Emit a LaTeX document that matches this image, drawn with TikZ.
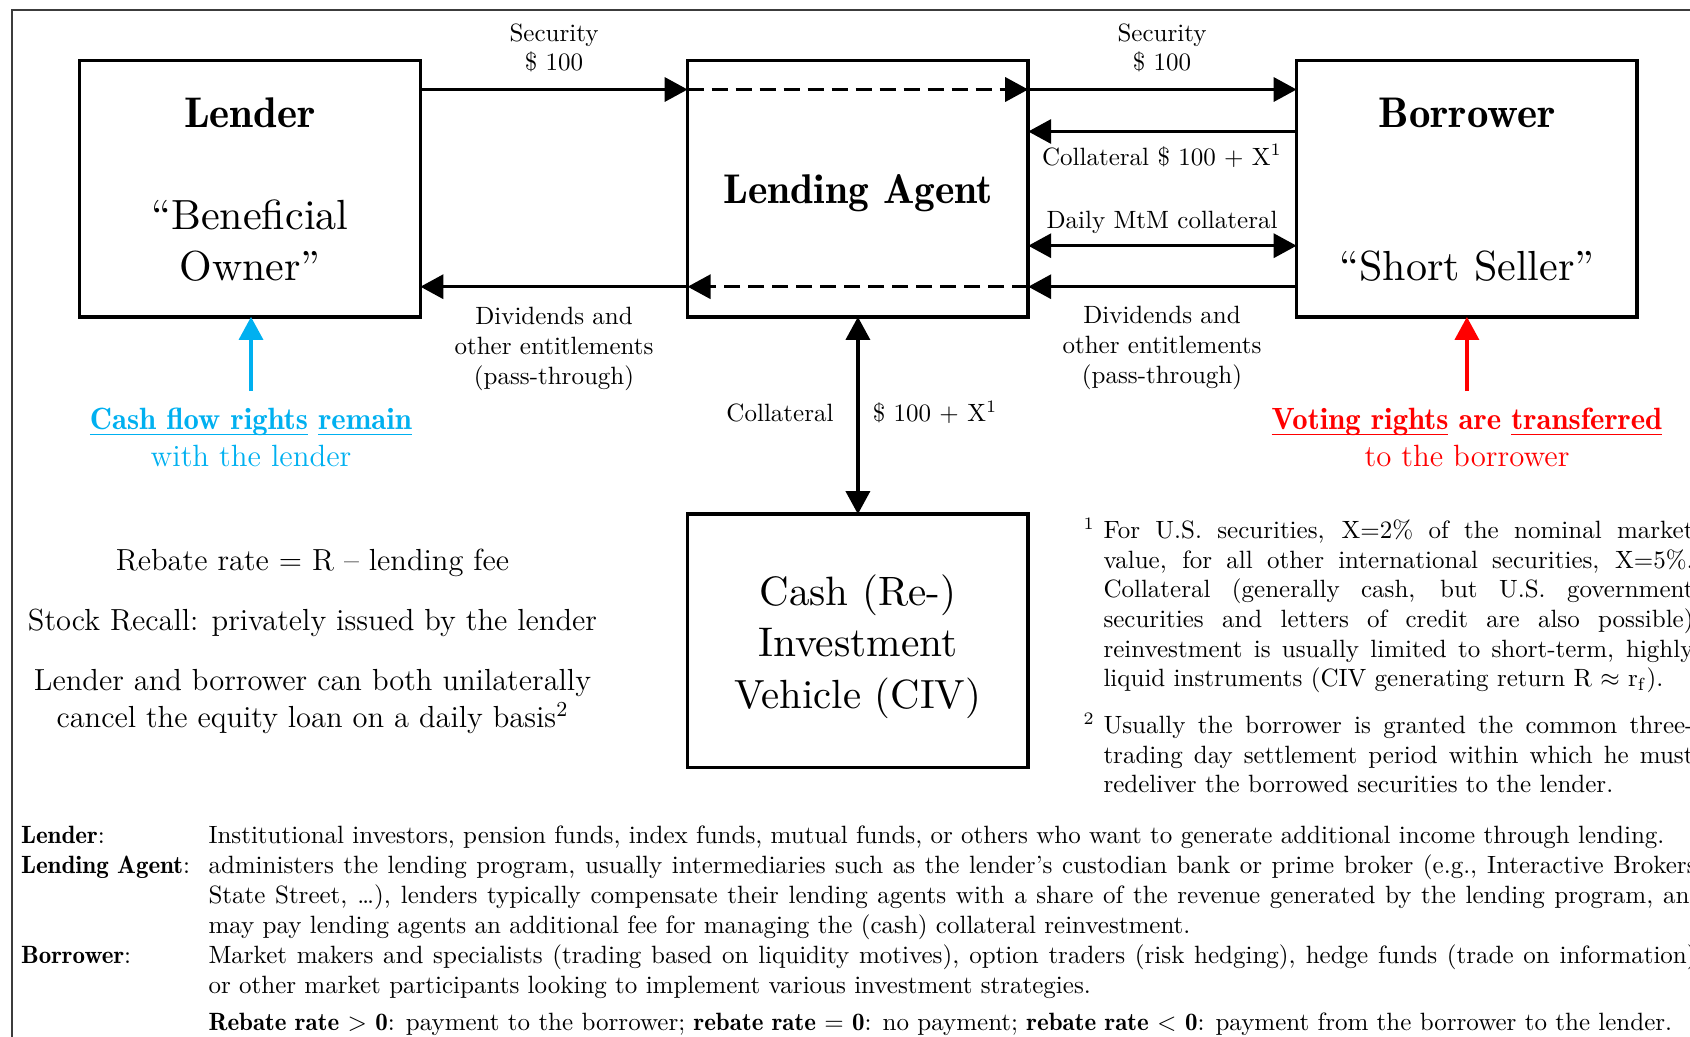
\documentclass[tikz,border=0pt]{standalone}
\usepackage{graphicx}
\usetikzlibrary{arrows.meta}
\definecolor{cfblue}{RGB}{0,176,240}
\definecolor{vred}{RGB}{255,0,0}
\definecolor{framegray}{RGB}{60,60,60}
\newcommand{\jline}[2]{\makebox[#1][s]{#2}}
\newcommand{\db}[1]{{\fontseries{b}\selectfont #1}}
\newcommand{\bigR}[2]{\resizebox{#1}{!}{\fontsize{10}{12}\selectfont #2}}
\newcommand{\bigB}[2]{\resizebox{#1}{!}{\fontsize{10}{12}\fontseries{b}\selectfont #2}}
\newsavebox{\myulbox}
\newcommand{\myul}[1]{\sbox{\myulbox}{#1}\rlap{\rule[-2.1pt]{\wd\myulbox}{0.45pt}}\usebox{\myulbox}}
\begin{document}
\begin{tikzpicture}[x=0.4pt,y=-0.4pt,
  box/.style={draw, line width=1.4pt, minimum width=136.24pt, minimum height=102.6pt, inner sep=0pt, outer sep=0pt},
  flow/.style={line width=1.4pt, -{Triangle[length=9.2pt,width=9.6pt]}},
  both/.style={line width=1.4pt, {Triangle[length=9.2pt,width=9.6pt]}-{Triangle[length=9.2pt,width=9.6pt]}},
  dashline/.style={dash pattern=on 6.4pt off 3.2pt},
  lbl/.style={font=\fontsize{10}{12}\selectfont, inner sep=0pt, anchor=base},
  lblw/.style={font=\fontsize{10}{12}\selectfont, inner sep=0pt, anchor=base west},
  big/.style={inner sep=0pt, anchor=base},
  mid/.style={font=\fontsize{12.2}{14.8}\selectfont, inner sep=0pt, anchor=base},
  note/.style={font=\fontsize{12.3}{14.8}\selectfont, inner sep=0pt, anchor=base},
]
\useasboundingbox (0,0) rectangle (1690,1036);
\clip (0,0) rectangle (1690,1036);
% frame
\draw[framegray, line width=0.5pt] (12,1100) -- (12,10) -- (1750,10);

% boxes
\node[box] (lender) at (250.05,188.65) {};
\node[box] (agent) at (857.9,188.65) {};
\node[box] (borrower) at (1466.9,188.65) {};
\node[box, minimum height=101.3pt] (civ) at (857.9,640.75) {};

% box texts
\node[big] (tLender) at (250,127.7) {\bigB{52.7pt}{Lender}};
\node[big] (tBen) at (250,229) {\bigR{78.9pt}{``Beneficial}};
\node[big] (tOwn) at (250,280) {\bigR{56.4pt}{Owner''}};
\node[big] (tAgent) at (858,203.3) {\bigB{107.8pt}{Lending Agent}};
\node[big] (tBorr) at (1467,127.7) {\bigB{70.8pt}{Borrower}};
\node[big] (tShort) at (1467,280) {\bigR{102pt}{``Short Seller''}};
\node[big] (tCiv1) at (858,605) {\bigR{78.7pt}{Cash (Re-)}};
\node[big] (tCiv2) at (858,656.7) {\bigR{79.7pt}{Investment}};
\node[big] (tCiv3) at (858,708.3) {\bigR{98.7pt}{Vehicle (CIV)}};

% arrow levels
\coordinate (ySec) at (0,89.5);
\coordinate (yCol) at (0,131.5);
\coordinate (yMtM) at (0,245.7);
\coordinate (yDiv) at (0,286.7);

\draw[flow] (lender.east |- ySec) -- (agent.west |- ySec);
\draw[flow, dashline] (agent.west |- ySec) -- (agent.east |- ySec);
\draw[flow] (agent.east |- ySec) -- (borrower.west |- ySec);
\draw[flow] (borrower.west |- yCol) -- (agent.east |- yCol);
\draw[both] (agent.east |- yMtM) -- (borrower.west |- yMtM);
\draw[flow] (borrower.west |- yDiv) -- (agent.east |- yDiv);
\draw[flow, dashline] (agent.east |- yDiv) -- (agent.west |- yDiv);
\draw[flow] (agent.west |- yDiv) -- (lender.east |- yDiv);
\draw[both] (agent.south) -- (civ.north);

\coordinate (blueStart) at (251,391.2);
\coordinate (redStart) at (1466.9,391.2);
\draw[flow, cfblue] (blueStart) -- (blueStart |- lender.south);
\draw[flow, vred] (redStart) -- (redStart |- borrower.south);

% arrow labels
\node[lbl] (s1a) at (554,41.7) {Security};
\node[lbl] (s1b) at (554,70.7) {\$ 100};
\node[lbl] (s2a) at (1162,41.7) {Security};
\node[lbl] (s2b) at (1162,70.7) {\$ 100};
\node[lbl] (colL) at (1162,165) {Collateral \$ 100 + X\textsuperscript{1}};
\node[lbl] (mtmL) at (1162,228.3) {Daily MtM collateral};
\node[lbl] (d1a) at (554,324) {Dividends and};
\node[lbl] (d1b) at (554,354) {other entitlements};
\node[lbl] (d1c) at (554,384) {(pass-through)};
\node[lbl] (d2a) at (1162,323) {Dividends and};
\node[lbl] (d2b) at (1162,353) {other entitlements};
\node[lbl] (d2c) at (1162,383) {(pass-through)};
\node[lbl] (cvA) at (780,421.7) {Collateral};
\node[lbl] (cvB) at (935,421.7) {\$ 100 + X\textsuperscript{1}};

% coloured notes
\node[note, text=cfblue] (bl1) at (251,429.5) {\db{\myul{Cash flow rights} \myul{remain}}};
\node[note, text=cfblue] (bl2) at (251,466.5) {with the lender};
\node[note, text=vred] (rd1) at (1467,429.5) {\db{\myul{Voting rights} are \myul{transferred}}};
\node[note, text=vred] (rd2) at (1467,466.5) {to the borrower};

% left texts
\node[mid] (m1) at (312.5,570) {Rebate rate = R -- lending fee};
\node[mid] (m2) at (312.5,630) {Stock Recall: privately issued by the lender};
\node[mid] (m3) at (312.5,690) {Lender and borrower can both unilaterally};
\node[mid] (m4) at (312.5,727.5) {cancel the equity loan on a daily basis\textsuperscript{2}};

% footnotes
\node[lblw] (fm1) at (1083,538.3) {\textsuperscript{1}};
\node[lblw] (f1a) at (1103,538.3) {\jline{236pt}{For U.S. securities, X=2\% of the nominal market}};
\node[lblw] (f1b) at (1103,568) {\jline{236pt}{value, for all other international securities, X=5\%.}};
\node[lblw] (f1c) at (1103,597.7) {\jline{236pt}{Collateral (generally cash, but U.S. government}};
\node[lblw] (f1d) at (1103,627.4) {\jline{236pt}{securities and letters of credit are also possible)}};
\node[lblw] (f1e) at (1103,657.1) {\jline{236pt}{reinvestment is usually limited to short-term, highly}};
\node[lblw] (f1f) at (1103,686.8) {liquid instruments (CIV generating return R $\approx$ r$_\mathrm{f}$).};
\node[lblw] (fm2) at (1083,733.3) {\textsuperscript{2}};
\node[lblw] (f2a) at (1103,733.3) {\jline{236pt}{Usually the borrower is granted the common three-}};
\node[lblw] (f2b) at (1103,763) {\jline{236pt}{trading day settlement period within which he must}};
\node[lblw] (f2c) at (1103,792.7) {redeliver the borrowed securities to the lender.};

% bottom definitions
\node[lblw] (kL) at (20.5,843.6) {\db{Lender}:};
\node[lblw] (kA) at (20.5,873.6) {\db{Lending Agent}:};
\node[lblw] (kB) at (20.5,963.6) {\db{Borrower}:};
\node[lblw] (b1) at (208,843.6) {Institutional investors, pension funds, index funds, mutual funds, or others who want to generate additional income through lending.};
\node[lblw] (b2) at (208,873.6) {\jline{598pt}{administers the lending program, usually intermediaries such as the lender's custodian bank or prime broker (e.g., Interactive Brokers,}};
\node[lblw] (b3) at (208,903.6) {\jline{598pt}{State Street, \ldots), lenders typically compensate their lending agents with a share of the revenue generated by the lending program, and}};
\node[lblw] (b4) at (208,933.6) {may pay lending agents an additional fee for managing the (cash) collateral reinvestment.};
\node[lblw] (b5) at (208,963.6) {\jline{598pt}{Market makers and specialists (trading based on liquidity motives), option traders (risk hedging), hedge funds (trade on information),}};
\node[lblw] (b6) at (208,993.6) {or other market participants looking to implement various investment strategies.};
\node[lblw] (b7) at (208,1030.6) {\db{Rebate rate $>$ 0}: payment to the borrower; \db{rebate rate $=$ 0}: no payment; \db{rebate rate $<$ 0}: payment from the borrower to the lender.};
\end{tikzpicture}
\end{document}
